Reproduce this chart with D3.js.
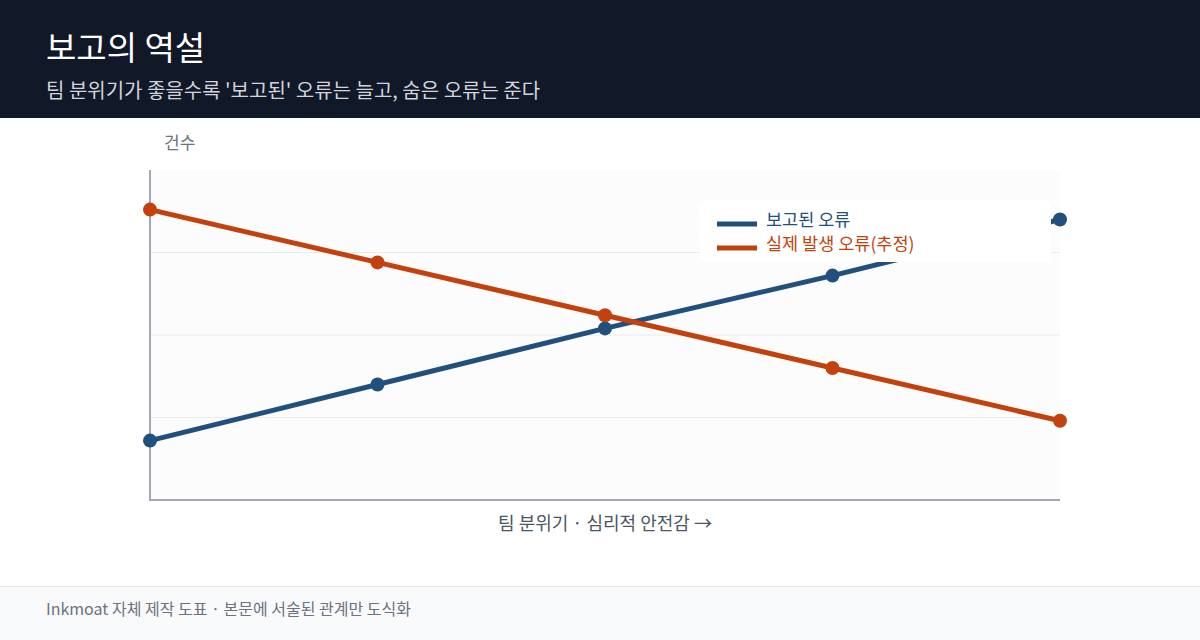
<!DOCTYPE html>
<html>
<head>
<meta charset="utf-8">
<script src="https://cdn.jsdelivr.net/npm/d3@7"></script>
<style>
  body { margin: 0; background: #fff; }
  svg { display: block; font-family: "Noto Sans CJK KR", "Noto Sans", sans-serif; }
</style>
</head>
<body>
<svg id="chart" width="1200" height="640"></svg>
<script>
// data
var steps = [0, 1, 2, 3, 4];                 // team climate, low -> high
var reported = [18, 35, 52, 68, 85];         // 보고된 오류
var actual = [88, 72, 56, 40, 24];           // 실제 발생 오류(추정)
var gridVals = [25, 50, 75];

var seriesNames = ["보고된 오류", "실제 발생 오류(추정)"];
var seriesColors = ["#21507e", "#c2410c"];

var svg = d3.select("#chart");

// header
svg.append("rect").attr("width", 1200).attr("height", 118).attr("fill", "#111827");
svg.append("text").attr("x", 46).attr("y", 60)
  .attr("fill", "#ffffff").attr("font-size", 33)
  .text("보고의 역설");
svg.append("text").attr("x", 46).attr("y", 98)
  .attr("fill", "#d1d5db").attr("font-size", 20)
  .text("팀 분위기가 좋을수록 '보고된' 오류는 늘고, 숨은 오류는 준다");

// footer
svg.append("rect").attr("y", 586).attr("width", 1200).attr("height", 54).attr("fill", "#f9fafb");
svg.append("line").attr("x1", 0).attr("x2", 1200).attr("y1", 586.5).attr("y2", 586.5)
  .attr("stroke", "#e5e7eb");
svg.append("text").attr("x", 46).attr("y", 615)
  .attr("fill", "#6b7280").attr("font-size", 16)
  .text("Inkmoat 자체 제작 도표 · 본문에 서술된 관계만 도식화");

// plot
var pLeft = 150, pRight = 1060, pTop = 170, pBottom = 500;
var x = d3.scaleLinear().domain([0, 4]).range([pLeft, pRight]);
var y = d3.scaleLinear().domain([0, 100]).range([pBottom, pTop]);

svg.append("rect").attr("x", pLeft).attr("y", pTop)
  .attr("width", pRight - pLeft).attr("height", pBottom - pTop)
  .attr("fill", "#fcfcfd");

svg.append("g").selectAll("line").data(gridVals).enter().append("line")
  .attr("x1", pLeft).attr("x2", pRight)
  .attr("y1", function(d) { return y(d); }).attr("y2", function(d) { return y(d); })
  .attr("stroke", "#e9eaee").attr("stroke-width", 1.2);

svg.append("line").attr("x1", pLeft).attr("x2", pLeft).attr("y1", pTop).attr("y2", pBottom)
  .attr("stroke", "#a3a8b3").attr("stroke-width", 2);
svg.append("line").attr("x1", pLeft - 1).attr("x2", pRight).attr("y1", pBottom).attr("y2", pBottom)
  .attr("stroke", "#a3a8b3").attr("stroke-width", 2);

svg.append("text").attr("x", 164).attr("y", 149)
  .attr("fill", "#6b7280").attr("font-size", 17).text("건수");
svg.append("text").attr("x", (pLeft + pRight) / 2).attr("y", 530)
  .attr("text-anchor", "middle").attr("fill", "#4b5563").attr("font-size", 18)
  .text("팀 분위기 · 심리적 안전감 →");

var line = d3.line()
  .x(function(d, i) { return x(steps[i]); })
  .y(function(d) { return y(d); });

[reported, actual].forEach(function(vals, k) {
  var g = svg.append("g");
  g.append("path").datum(vals).attr("d", line)
    .attr("fill", "none").attr("stroke", seriesColors[k]).attr("stroke-width", 5)
    .attr("stroke-linecap", "round");
  g.selectAll("circle").data(vals).enter().append("circle")
    .attr("cx", function(d, i) { return x(steps[i]); })
    .attr("cy", function(d) { return y(d); })
    .attr("r", 7).attr("fill", seriesColors[k]);
});

// legend
var lg = svg.append("g").attr("transform", "translate(700,200)");
lg.append("rect").attr("width", 351).attr("height", 62).attr("rx", 8)
  .attr("fill", "#ffffff");
seriesNames.forEach(function(name, k) {
  var yy = 24 + k * 24;
  lg.append("line").attr("x1", 17).attr("x2", 57).attr("y1", yy).attr("y2", yy)
    .attr("stroke", seriesColors[k]).attr("stroke-width", 5);
  lg.append("text").attr("x", 66).attr("y", yy - 3).attr("dominant-baseline", "middle")
    .attr("fill", seriesColors[k]).attr("font-size", 17.5).text(name);
});
</script>
</body>
</html>
